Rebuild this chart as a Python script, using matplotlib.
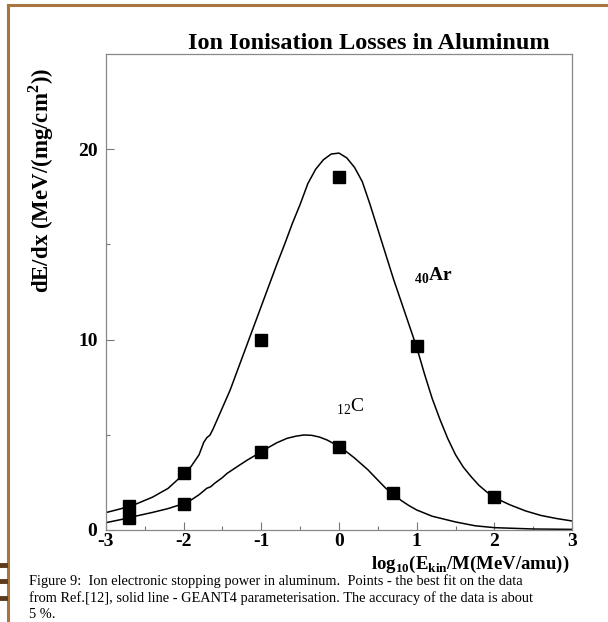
import numpy as np
import matplotlib.pyplot as plt
from matplotlib.lines import Line2D

# data points (best fit on data, Ref.[12])
ar_px = [-2.7, -2.0, -1.0, 0.0, 1.0, 2.0]
ar_py = [1.26, 2.97, 10.0, 18.55, 9.65, 1.72]
c_px = [-2.7, -2.0, -1.0, 0.0, 0.7]
c_py = [0.65, 1.36, 4.1, 4.38, 1.92]

# GEANT4 parameterisation curves
ar_lx = [-3.0, -2.8, -2.6, -2.4, -2.2, -2.0, -1.9, -1.8, -1.74, -1.70, -1.66, -1.62,
         -1.55, -1.4, -1.3, -1.2, -1.1, -1.0, -0.9, -0.8, -0.7, -0.6, -0.5, -0.4,
         -0.3, -0.2, -0.1, 0.0, 0.1, 0.2, 0.3, 0.4, 0.5, 0.6, 0.7, 0.8, 0.9, 1.0,
         1.1, 1.2, 1.3, 1.4, 1.5, 1.6, 1.7, 1.8, 1.9, 2.0, 2.2, 2.4, 2.6, 2.8, 3.0]
ar_ly = [0.91, 1.12, 1.38, 1.72, 2.18, 2.92, 3.35, 3.95, 4.6, 4.85, 4.98, 5.3,
         5.95, 7.35, 8.45, 9.55, 10.65, 11.75, 12.85, 13.95, 15.0, 16.1, 17.1, 18.2,
         18.95, 19.45, 19.75, 19.8, 19.55, 19.05, 18.3, 17.1, 15.8, 14.5, 13.2, 12.0, 10.8, 9.6,
         8.2, 6.9, 5.8, 4.8, 3.95, 3.3, 2.8, 2.35, 2.0, 1.7, 1.32, 1.0, 0.76, 0.6, 0.47]
c_lx = [-3.0, -2.8, -2.7, -2.6, -2.4, -2.2, -2.0, -1.9, -1.8, -1.7, -1.65, -1.6,
        -1.5, -1.44, -1.3, -1.18, -1.0, -0.9, -0.8, -0.67, -0.55, -0.45, -0.35, -0.25,
        -0.15, -0.05, 0.0, 0.1, 0.2, 0.37, 0.5, 0.6, 0.7, 0.8, 0.9, 1.0, 1.2, 1.5,
        1.75, 2.0, 2.5, 3.0]
c_ly = [0.38, 0.55, 0.64, 0.74, 0.92, 1.12, 1.38, 1.58, 1.85, 2.19, 2.27, 2.45,
        2.75, 2.97, 3.35, 3.67, 4.1, 4.35, 4.58, 4.81, 4.93, 4.99, 4.97, 4.88,
        4.72, 4.5, 4.38, 4.1, 3.78, 3.17, 2.62, 2.2, 1.88, 1.55, 1.28, 1.05, 0.72, 0.42,
        0.22, 0.12, 0.05, 0.03]

caption_lines = [
    'Figure 9:  Ion electronic stopping power in aluminum.  Points - the best fit on the data',
    'from Ref.[12], solid line - GEANT4 parameterisation. The accuracy of the data is about',
    '5 %.',
]

serif = ['Liberation Serif', 'DejaVu Serif']
plt.rcParams['font.family'] = serif
plt.rcParams['mathtext.fontset'] = 'custom'
plt.rcParams['mathtext.rm'] = 'Liberation Serif'
plt.rcParams['mathtext.bf'] = 'Liberation Serif:bold'
plt.rcParams['axes.unicode_minus'] = False

fig = plt.figure(figsize=(6.08, 6.22), dpi=100)
ax = fig.add_axes([0.174, 0.148, 0.767, 0.765])

ax.plot(ar_lx, ar_ly, color='black', lw=1.1)
ax.plot(c_lx, c_ly, color='black', lw=1.1)
ax.plot(ar_px, ar_py, 's', color='black', ms=8.5)
ax.plot(c_px, c_py, 's', color='black', ms=8.5)

ax.set_xlim(-3, 3)
ax.set_ylim(0, 25)
ax.set_xticks([-3, -2, -1, 0, 1, 2, 3])
ax.set_xticks(np.arange(-3, 3.01, 0.5), minor=True)
ax.set_yticks([0, 10, 20])
ax.set_yticks([5, 15], minor=True)
ax.tick_params(direction='in', length=6, width=0.8, color='#777777',
               labelsize=14, top=False, right=False)
ax.tick_params(which='minor', direction='in', length=3, width=0.8, color='#777777')
ax.tick_params(axis='x', pad=2)
ax.tick_params(axis='y', pad=6)
for lab in ax.get_xticklabels() + ax.get_yticklabels():
    lab.set_fontweight('bold')
for s in ax.spines.values():
    s.set_color('#888888')
    s.set_linewidth(0.9)

ax.text(0.97, 13.1, r'$_{\mathbf{40}}$Ar', fontsize=14, fontweight='bold')
ax.text(-0.04, 6.2, r'$_{12}$C', fontsize=14)

fig.text(0.607, 0.922, 'Ion Ionisation Losses in Aluminum', fontsize=17.5,
         fontweight='bold', ha='center', va='baseline')
fig.text(0.068, 0.71, r'dE/dx (MeV/(mg/cm$^{\mathbf{2}}$))', fontsize=16.5,
         fontweight='bold', rotation=90, ha='center', va='center')
fig.text(0.937, 0.086, r'log$_{\mathbf{10}}$(E$_{\mathbf{kin}}$/M(MeV/amu))',
         fontsize=13.5, fontweight='bold', ha='right', va='baseline')

# caption, one line at a time
for i, line in enumerate(caption_lines):
    fig.text(0.048, 0.059 - i * 0.0265, line, fontsize=10.4, ha='left', va='baseline')

# scanned page edges
fig.add_artist(Line2D([0.013, 1.0], [0.992, 0.992], color='#a8743f', lw=2.2))
fig.add_artist(Line2D([0.013, 0.013], [0.0, 0.992], color='#a8743f', lw=2.2))
for y0 in [0.092, 0.066, 0.038]:
    fig.add_artist(Line2D([0.0, 0.009], [y0, y0], color='#5a3a1a', lw=3.5))

fig.savefig('out.png', dpi=100)
